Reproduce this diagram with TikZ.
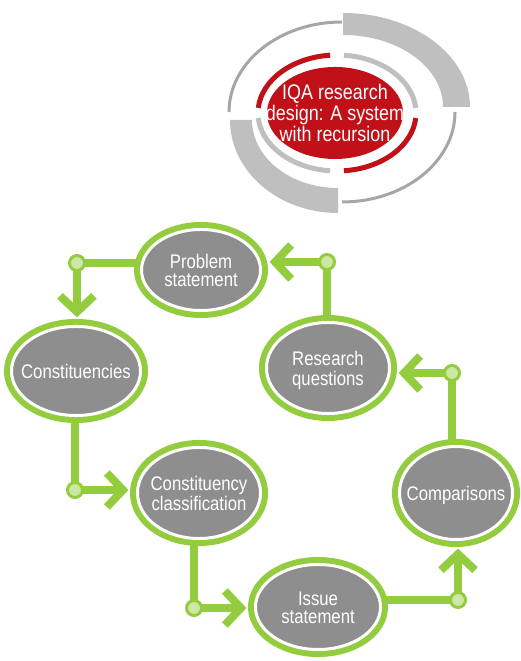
\documentclass[tikz,border=0pt]{standalone}
\usepackage{fontspec}
\setmainfont{Liberation Sans}[FakeStretch=0.85]
\usepackage{tikz}
\usetikzlibrary{arrows.meta,backgrounds,shapes.geometric}
\definecolor{leaf}{RGB}{148,204,64}
\definecolor{leaflight}{RGB}{205,232,165}
\definecolor{stone}{RGB}{142,142,142}
\definecolor{ashgray}{RGB}{191,191,191}
\definecolor{ringgray}{RGB}{166,166,166}
\definecolor{brick}{RGB}{192,16,24}
\newcommand{\celltext}[1]{\smash{\makebox[0pt]{\raisebox{-5.9pt}{\begin{tabular}{@{}c@{}}#1\end{tabular}}}}}
\tikzset{
  stage/.style={ellipse, fill=stone, draw=white, line width=0.075cm, inner sep=0pt,
    preaction={draw=leaf, line width=0.375cm}, text=white,
    font=\fontsize{14}{13}\selectfont},
  joint/.style={circle, draw=leaf, fill=leaflight, line width=0.075cm,
    minimum size=0.375cm, inner sep=0pt},
  flow/.style={draw=leaf, line width=0.2cm,
    -{Straight Barb[length=0.4cm,width=0.85cm]}, shorten >=0.19cm},
}

\begin{document}
\begin{tikzpicture}[x=0.025cm,y=0.025cm]
\useasboundingbox (0,0) rectangle (520,661);

% emblem
\draw[ringgray, line width=0.075cm] (229,549) arc[start angle=180,end angle=90,x radius=113,y radius=90];
\draw[ringgray, line width=0.075cm] (455,549) arc[start angle=0,end angle=-90,x radius=113,y radius=90];
\fill[ashgray] (343,648) arc[start angle=90,end angle=0,x radius=127,y radius=94]
  -- (443,554) arc[start angle=0,end angle=90,x radius=100,y radius=72] -- cycle;
\fill[ashgray] (230,541) arc[start angle=180,end angle=270,x radius=108,y radius=93]
  -- (338,473) arc[start angle=270,end angle=180,x radius=86,y radius=68] -- cycle;
\draw[brick, line width=0.125cm] (337,548) ++(95:79 and 58) arc[start angle=95,end angle=175,x radius=79,y radius=58];
\draw[ashgray, line width=0.125cm] (337,548) ++(5:79 and 58) arc[start angle=5,end angle=85,x radius=79,y radius=58];
\draw[brick, line width=0.125cm] (337,548) ++(-85:79 and 58) arc[start angle=-85,end angle=-5,x radius=79,y radius=58];
\draw[ashgray, line width=0.125cm] (337,548) ++(185:79 and 58) arc[start angle=185,end angle=265,x radius=79,y radius=58];
\fill[brick] (335,548) ellipse[x radius=68,y radius=46];
\node[text=white, align=center, font=\fontsize{15}{13.5}\selectfont] (title) at (335,548)
  {IQA research\\design: A system\\with recursion};

% cycle
\node[stage, minimum width=2.975cm, minimum height=2.025cm] (ps) at (201,391) {\celltext{Problem\\statement}};
\node[stage, minimum width=3.225cm, minimum height=2.225cm] (con) at (76,290) {\celltext{Constituencies}};
\node[stage, minimum width=3.075cm, minimum height=2.275cm] (cc) at (199,168) {\celltext{Constituency\\classification}};
\node[stage, minimum width=3.125cm, minimum height=2.125cm] (is) at (318,54) {\celltext{Issue\\statement}};
\node[stage, minimum width=2.825cm, minimum height=2.325cm] (cmp) at (456,168) {\celltext{Comparisons}};
\node[stage, minimum width=3.075cm, minimum height=2.275cm] (rq) at (328,293) {\celltext{Research\\questions}};

\node[joint] (j1) at (77,398) {};
\node[joint] (j2) at (75,171) {};
\node[joint] (j3) at (194,53) {};
\node[joint] (j4) at (458,61) {};
\node[joint] (j5) at (452,288) {};
\node[joint] (j6) at (327,399) {};

\begin{scope}[on background layer]
\draw[flow] (j1 -| ps.center) -- (j1.center) -- (j1 |- con.north);
\draw[flow] (j2 |- con.center) -- (j2.center) -- (j2 -| cc.west);
\draw[flow] (j3 |- cc.center) -- (j3.center) -- (j3 -| is.west);
\draw[flow] (j4 -| is.center) -- (j4.center) -- (j4 |- cmp.south);
\draw[flow] (j5 |- cmp.center) -- (j5.center) -- (j5 -| rq.east);
\draw[flow] (j6 |- rq.center) -- (j6.center) -- (j6 -| ps.east);
\end{scope}
\end{tikzpicture}
\end{document}
